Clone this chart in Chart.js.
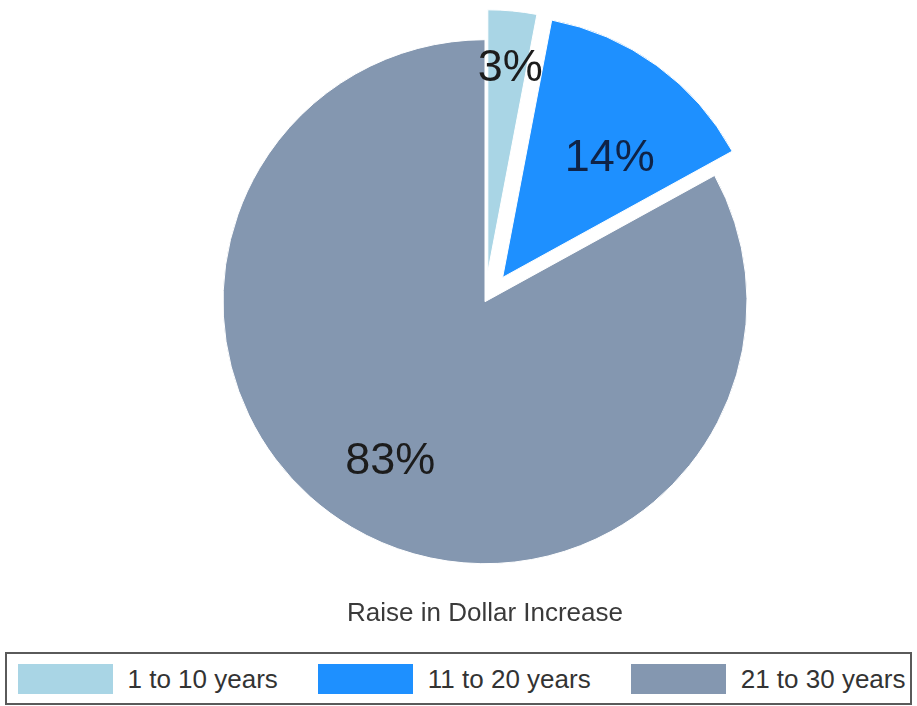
<!DOCTYPE html>
<html>
<head>
<meta charset="utf-8">
<title>Raise in Dollar Increase</title>
<script src="https://cdn.jsdelivr.net/npm/chart.js@4.4.1/dist/chart.umd.min.js"></script>
<style>
  html, body { margin: 0; padding: 0; background: #fff; }
  #wrap { position: relative; width: 917px; height: 706px; overflow: hidden;
          font-family: "Liberation Sans", Arial, sans-serif; }
  #pie { position: absolute; left: 0; top: 0; }
  #legend { position: absolute; left: 5px; top: 652px; width: 907px; height: 53px;
            box-sizing: border-box; border: 2px solid #5a5a5a; padding-left: 6px;
            display: flex; align-items: center; justify-content: center; }
  .item { display: flex; align-items: center; margin: 0 20px; }
  .sw { width: 95px; height: 30px; margin-right: 15px; }
  .lb { font-size: 26px; color: #333; white-space: nowrap; line-height: 30px; }
</style>
</head>
<body>
<div id="wrap">
  <canvas id="pie" width="917" height="650"></canvas>
  <div id="legend"></div>
</div>
<script>
// Years of service groups and their share of the raise (percent)
const groups = ['1 to 10 years', '11 to 20 years', '21 to 30 years'];
const shares = [3, 14, 83];
const sliceColors = ['#A9D5E5', '#1E90FF', '#8497B0'];
const chartTitle = 'Raise in Dollar Increase';

// Visible outward shift (px) of each pulled-out slice
const pullOut = [30, 30, 0];
// Where each percentage label sits: fraction of the radius, and fraction of the slice's sweep
const labelDepth = [0.78, 0.61, 0.71];
const labelSweep = [0.57, 0.62, 0.5];
const labelColors = ['#1c1c1c', '#0f2347', '#1c1c1c'];

// Chart.js moves an offset arc by offset/4, widens its radius and trims its angle;
// undo the widening and the trim so each pulled-out slice keeps its true size
const keepShape = {
  id: 'keepShape',
  afterDatasetUpdate(chart, args) {
    args.meta.data.forEach(arc => {
      const shift = (arc.options.offset || 0) / 4;
      if (!shift) return;
      const fix = 1 - Math.sin(Math.min(Math.PI, arc.circumference || 0));
      const grow = shift * fix;
      const drawnR = arc.outerRadius;
      arc.outerRadius -= grow;
      const trim = grow / Math.PI / drawnR;
      arc.startAngle -= trim / 2;
      arc.endAngle += trim / 2;
    });
  }
};

// Percentage text inside each slice
const sliceLabels = {
  id: 'sliceLabels',
  afterDatasetsDraw(chart) {
    const ctx = chart.ctx;
    const meta = chart.getDatasetMeta(0);
    const values = chart.data.datasets[0].data;
    ctx.save();
    ctx.font = '45px "Liberation Sans", Arial, sans-serif';
    ctx.textAlign = 'center';
    ctx.textBaseline = 'middle';
    meta.data.forEach((arc, i) => {
      const shift = (arc.options.offset || 0) / 4;
      const fix = 1 - Math.sin(Math.min(Math.PI, arc.circumference || 0));
      const r = arc.outerRadius + shift * fix;
      const mid = (arc.startAngle + arc.endAngle) / 2;
      const at = arc.startAngle + (arc.endAngle - arc.startAngle) * labelSweep[i];
      const ox = arc.x + Math.cos(mid) * shift;
      const oy = arc.y + Math.sin(mid) * shift;
      const d = r * labelDepth[i];
      ctx.fillStyle = labelColors[i];
      ctx.fillText(values[i] + '%', ox + Math.cos(at) * d, oy + Math.sin(at) * d);
    });
    ctx.restore();
  }
};

new Chart(document.getElementById('pie'), {
  type: 'pie',
  data: {
    labels: groups,
    datasets: [{
      data: shares,
      backgroundColor: sliceColors,
      borderColor: '#ffffff',
      borderWidth: 1,
      offset: pullOut.map(v => v * 4),
      hoverOffset: 0
    }]
  },
  options: {
    responsive: false,
    animation: false,
    radius: 262,
    layout: { padding: { left: 53, right: 0, top: 15.6, bottom: 11 } },
    events: [],
    plugins: {
      legend: { display: false },
      tooltip: { enabled: false },
      title: {
        display: true,
        text: chartTitle,
        position: 'bottom',
        color: '#3a3a3a',
        font: { family: '"Liberation Sans", Arial, sans-serif', size: 26, weight: 'normal' },
        padding: { top: 10, bottom: 10 }
      }
    }
  },
  plugins: [keepShape, sliceLabels]
});

// Legend row built from the same groups and colours
const legend = document.getElementById('legend');
groups.forEach((g, i) => {
  const item = document.createElement('div');
  item.className = 'item';
  const sw = document.createElement('div');
  sw.className = 'sw';
  sw.style.background = sliceColors[i];
  const lb = document.createElement('span');
  lb.className = 'lb';
  lb.textContent = g;
  item.appendChild(sw);
  item.appendChild(lb);
  legend.appendChild(item);
});
</script>
</body>
</html>
